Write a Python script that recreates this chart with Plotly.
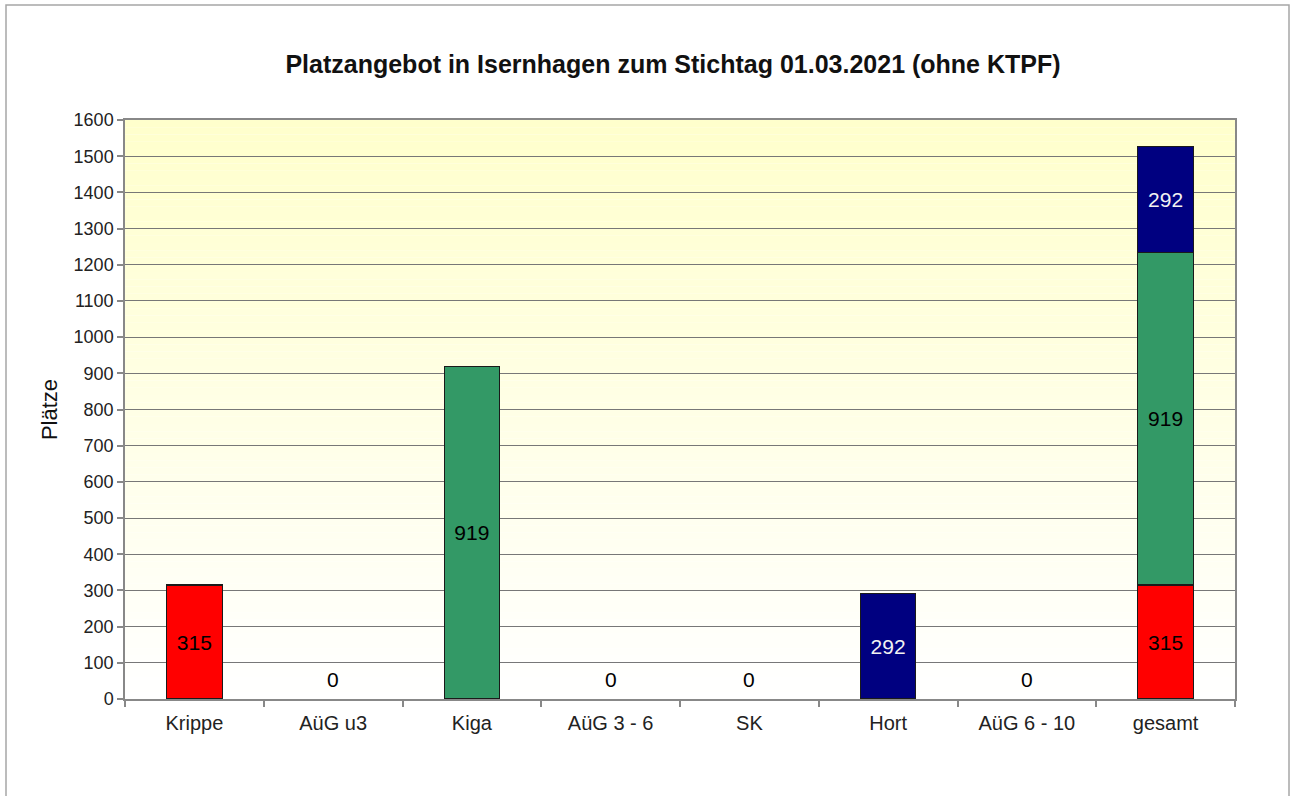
import plotly.graph_objects as go

# ---- data ----
categories = ["Krippe", "AüG u3", "Kiga", "AüG 3 - 6", "SK", "Hort", "AüG 6 - 10", "gesamt"]
krippe_series = [315, None, None, None, None, None, None, 315]
kiga_series = [None, None, 919, None, None, None, None, 919]
hort_series = [None, None, None, None, None, 292, None, 292]
zero_categories = ["AüG u3", "AüG 3 - 6", "SK", "AüG 6 - 10"]
zero_values = [0, 0, 0, 0]
y_ticks = list(range(0, 1601, 100))

title_text = "Platzangebot in Isernhagen zum Stichtag 01.03.2021 (ohne KTPF)"
font_family = "Liberation Sans, Arial, sans-serif"

W, H = 1290, 796
ML, MR, MT, MB = 125, 55, 120, 97

fig = go.Figure()

def add_bar(vals, color, txtcolor):
    fig.add_trace(go.Bar(
        x=categories, y=vals,
        marker=dict(color=color, line=dict(color="#1a1a1a", width=1.2)),
        text=[("" if v is None else str(v)) for v in vals],
        textposition="inside", insidetextanchor="middle",
        textfont=dict(family=font_family, size=21, color=txtcolor),
        textangle=0, constraintext="none",
        showlegend=False, hoverinfo="x+y",
    ))

add_bar(krippe_series, "#FF0000", "#000000")
add_bar(kiga_series, "#339966", "#000000")
add_bar(hort_series, "#000080", "#F2F2F2")

annotations = []
for c, v in zip(zero_categories, zero_values):
    annotations.append(dict(x=c, y=v, xref="x", yref="y", text=str(v), showarrow=False,
                            yanchor="bottom", yshift=6,
                            font=dict(family=font_family, size=21, color="#000000")))

# gradient background (yellow -> white) via bands
shapes = []
N = 80
for i in range(N):
    t = i / (N - 1)  # 0 bottom, 1 top
    b = int(round(255 - (255 - 204) * t))
    shapes.append(dict(type="rect", xref="x domain", yref="y domain",
                       x0=0, x1=1, y0=i / N, y1=(i + 1) / N,
                       fillcolor=f"rgb(255,255,{b})", line=dict(width=0),
                       layer="below"))
# outer frame
pw, ph = W - ML - MR, H - MT - MB
shapes.append(dict(type="rect", xref="paper", yref="paper",
                   x0=(6 - ML) / pw, x1=(1289 - ML) / pw,
                   y0=(H - MB - 820) / ph, y1=(H - MB - 5) / ph,
                   line=dict(color="#A6A6A6", width=1.5), fillcolor="rgba(0,0,0,0)",
                   layer="above"))

fig.update_layout(
    width=W, height=H,
    margin=dict(l=ML, r=MR, t=MT, b=MB),
    paper_bgcolor="white", plot_bgcolor="white",
    barmode="stack", bargap=0.6,
    font=dict(family=font_family, color="#222222"),
    title=dict(text=f"<b>{title_text}</b>", x=673 / W, xref="container", xanchor="center",
               y=1 - 64 / H, yanchor="middle",
               font=dict(family=font_family, size=25, color="#111111")),
    shapes=shapes,
    annotations=annotations,
)
fig.update_xaxes(
    type="category", categoryorder="array", categoryarray=categories,
    showgrid=False, showline=True, linecolor="#888888", linewidth=1.5, mirror=True,
    ticks="outside", tickson="boundaries", ticklen=6, tickcolor="#888888", tickwidth=1.5,
    ticklabelstandoff=5,
    tickfont=dict(family=font_family, size=20, color="#222222"),
)
fig.update_yaxes(
    range=[0, 1600], tickvals=y_ticks, showgrid=True, gridcolor="#777777", gridwidth=1.2,
    showline=True, linecolor="#888888", linewidth=1.5, mirror=True,
    ticks="outside", ticklen=6, tickcolor="#888888", tickwidth=1.5,
    tickfont=dict(family=font_family, size=18, color="#222222"),
    title=dict(text="Plätze", font=dict(family=font_family, size=22, color="#111111"), standoff=10),
    zeroline=False,
)

fig.write_html("out.html", config={"displayModeBar": False},
               post_script="document.body.style.margin='0';document.body.style.overflow='hidden';")
